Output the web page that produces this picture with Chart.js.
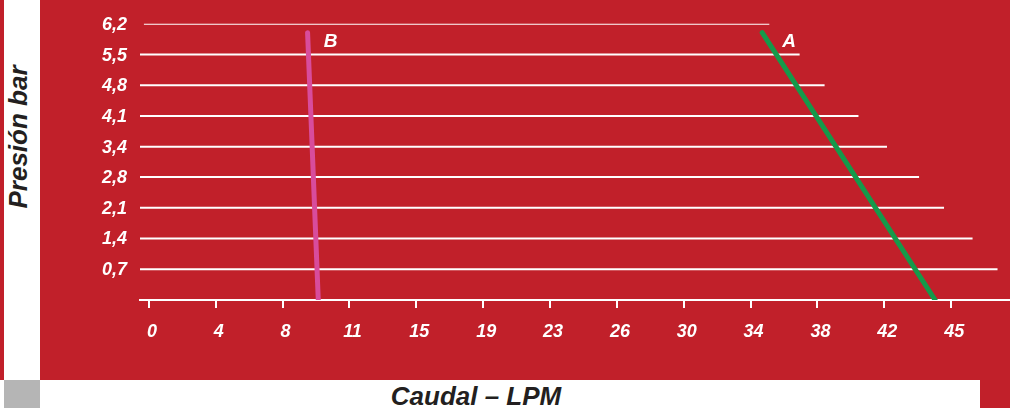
<!DOCTYPE html>
<html><head><meta charset="utf-8">
<script src="https://cdn.jsdelivr.net/npm/chart.js@4/dist/chart.umd.min.js"></script>
<style>
html,body{margin:0;padding:0;width:1010px;height:408px;overflow:hidden;background:#fff;}
#stripL{position:absolute;left:0;top:0;width:4px;height:380px;background:#c1202a}
#panel{position:absolute;left:40px;top:0;width:970px;height:380px;background:#c1202a}
#grey{position:absolute;left:4px;top:380px;width:36px;height:28px;background:#b5b5b5}
#stripR{position:absolute;left:980px;top:380px;width:30px;height:28px;background:#c1202a}
canvas{position:absolute;left:0;top:0}
.ttl{position:absolute;font:italic bold 26px "Liberation Sans",Arial,sans-serif;color:#231f20;white-space:nowrap;line-height:26px}
#ytitle{left:18px;top:137px;transform:translate(-50%,-50%) rotate(-90deg)}
#xtitle{left:476px;top:396px;transform:translate(-50%,-50%)}
</style></head>
<body>
<div id="stripL"></div>
<div id="grey"></div>
<div id="stripR"></div>
<div id="panel"><canvas id="c" width="970" height="380"></canvas></div>
<div class="ttl" id="ytitle">Presión bar</div>
<div class="ttl" id="xtitle">Caudal – LPM</div>
<script>
// Tick labels
const xTickLabels = ['0','4','8','11','15','19','23','26','30','34','38','42','45'];
const xTickValues = [0,3.75,7.5,11.25,15,18.75,22.5,26.25,30,33.75,37.5,41.25,45];
const yTickLabels = ['0,7','1,4','2,1','2,8','3,4','4,1','4,8','5,5','6,2'];
const yTickValues = [0.69,1.38,2.07,2.76,3.44,4.13,4.82,5.51,6.2];
// Reference line lengths per pressure level (LPM at right end)
const gridStarts = [-0.5,-0.5,-0.5,-0.5,-0.5,-0.5,-0.5,-0.5,-0.28];
const gridEnds = [47.6,46.2,44.6,43.2,41.4,39.8,37.9,36.5,34.8];
// Series: [flow LPM, pressure bar]
const seriesA = [[34.4,6.0],[44.1,0]];
const seriesB = [[8.9,6.0],[9.5,0]];

const F = '"Liberation Sans", Arial, sans-serif';
const gridSets = yTickValues.map((p,i)=>({
  data:[{x:gridStarts[i],y:p},{x:gridEnds[i],y:p}],
  borderColor:'#ffffff', borderWidth:2, pointRadius:0, tension:0
}));

const tagPlugin = {
  id:'tags',
  afterDatasetsDraw(chart){
    const ctx = chart.ctx;
    chart.data.datasets.forEach((ds,i)=>{
      if(!ds.tag) return;
      const pt = chart.getDatasetMeta(i).data[0];
      ctx.save();
      ctx.fillStyle = '#ffffff';
      ctx.font = 'italic bold 19px ' + F;
      ctx.textAlign = 'center';
      ctx.textBaseline = 'middle';
      ctx.fillText(ds.tag, pt.x + ds.tagDx, pt.y + ds.tagDy);
      ctx.restore();
    });
  }
};

new Chart(document.getElementById('c'), {
  type:'line',
  data:{datasets:[
    {tag:'A', tagDx:27, tagDy:9, data:seriesA.map(p=>({x:p[0],y:p[1]})), borderColor:'#15994a', borderWidth:5, borderCapStyle:'round', pointRadius:0},
    {tag:'B', tagDx:23, tagDy:9, data:seriesB.map(p=>({x:p[0],y:p[1]})), borderColor:'#d84c9c', borderWidth:5, borderCapStyle:'round', pointRadius:0},
    ...gridSets
  ]},
  options:{
    responsive:false, animation:false, devicePixelRatio:1,
    layout:{padding:{top:20,left:0,right:0,bottom:0}},
    plugins:{legend:{display:false}, tooltip:{enabled:false}},
    scales:{
      x:{type:'linear', min:-0.5, max:48.3,
        afterBuildTicks:s=>{ s.ticks = xTickValues.map(v=>({value:v})); },
        afterFit:s=>{ s.height = 80; },
        grid:{drawOnChartArea:false, drawTicks:true, tickLength:8, color:'#ffffff', lineWidth:2},
        border:{display:true, color:'#ffffff', width:2},
        ticks:{color:'#ffffff', padding:13, labelOffset:3, autoSkip:false, maxRotation:0,
          font:{family:F, size:18, style:'italic', weight:'bold'},
          callback:(v,i)=>xTickLabels[i]}
      },
      y:{type:'linear', min:0, max:6.2,
        afterBuildTicks:s=>{ s.ticks = yTickValues.map(v=>({value:v})); },
        afterFit:s=>{ s.width = 100; },
        grid:{display:false, drawTicks:false},
        border:{display:false},
        ticks:{color:'#ffffff', padding:13, labelOffset:1, autoSkip:false,
          font:{family:F, size:18, style:'italic', weight:'bold'},
          callback:(v,i)=>yTickLabels[i]}
      }
    }
  },
  plugins:[tagPlugin]
});
</script>
</body></html>
